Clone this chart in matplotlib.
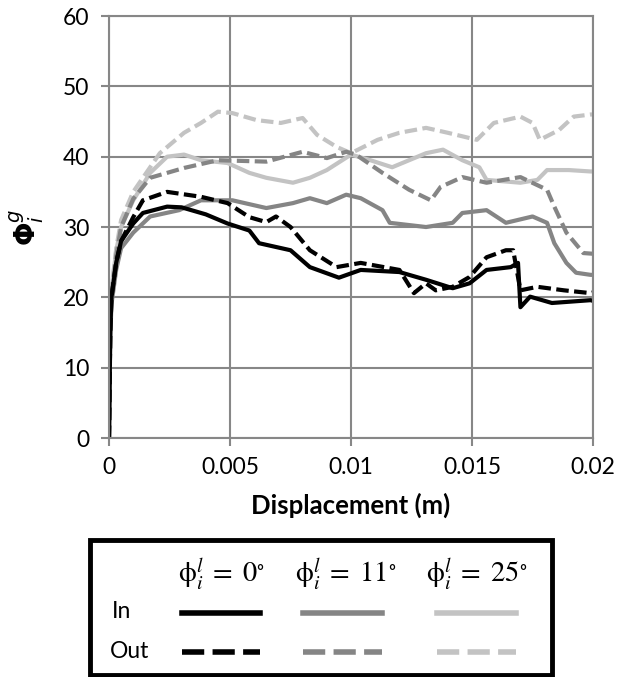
import matplotlib
matplotlib.use("Agg")
import matplotlib.pyplot as plt
from matplotlib.lines import Line2D
from matplotlib.patches import Rectangle

plt.rcParams['font.family'] = ['Lato', 'DejaVu Sans']

# phi_i^l = 0 deg, inlet (solid) and outlet (dashed)
x_in0 = [0, 0.00005, 0.0001, 0.0003, 0.0005, 0.001, 0.0014, 0.0024, 0.003, 0.004, 0.0049,
         0.0058, 0.0062, 0.0075, 0.0083, 0.0095, 0.0104, 0.012, 0.0131, 0.0142, 0.0149,
         0.0156, 0.0166, 0.0169, 0.0170, 0.0174, 0.0183, 0.0199, 0.02]
y_in0 = [0, 15, 20, 25, 28, 30.5, 32, 32.9, 32.8, 31.8, 30.5,
         29.5, 27.7, 26.7, 24.3, 22.8, 23.9, 23.6, 22.5, 21.3, 22,
         23.9, 24.3, 24.9, 18.6, 20.1, 19.2, 19.6, 19.5]
x_out0 = [0, 0.00005, 0.0001, 0.0003, 0.0005, 0.001, 0.0014, 0.0024, 0.0038, 0.0049, 0.0058,
          0.0065, 0.0069, 0.0075, 0.0083, 0.0094, 0.0104, 0.012, 0.0126, 0.0131, 0.0135,
          0.0142, 0.0149, 0.0156, 0.0164, 0.0167, 0.0170, 0.0177, 0.0188, 0.0199, 0.02]
y_out0 = [0, 15, 20, 25, 28, 31.4, 33.8, 35, 34.3, 33.4, 31.4,
          30.7, 31.5, 30, 26.7, 24.3, 24.9, 23.9, 20.6, 22, 21,
          21.5, 22.9, 25.7, 26.7, 26.7, 21, 21.5, 21, 20.6, 20.7]

# phi_i^l = 11 deg
x_in11 = [0, 0.00005, 0.0001, 0.0003, 0.0005, 0.001, 0.0017, 0.0029, 0.0038, 0.0051, 0.0065,
          0.0076, 0.0083, 0.009, 0.0098, 0.0104, 0.0113, 0.0116, 0.0131, 0.0142, 0.0146,
          0.0156, 0.0164, 0.0175, 0.0181, 0.0184, 0.0189, 0.0193, 0.0199, 0.02]
y_in11 = [0, 14, 19, 24, 27, 29.2, 31.5, 32.4, 33.8, 33.8, 32.7,
          33.4, 34.1, 33.4, 34.6, 34.1, 32.4, 30.6, 30, 30.6, 32,
          32.4, 30.6, 31.5, 30.6, 27.7, 24.9, 23.5, 23.2, 23.2]
x_out11 = [0, 0.00005, 0.0001, 0.0003, 0.0005, 0.001, 0.0017, 0.0031, 0.0045, 0.0065, 0.008,
           0.009, 0.0098, 0.0102, 0.0113, 0.0124, 0.0133, 0.0137, 0.0146, 0.0156, 0.017,
           0.0181, 0.0184, 0.0189, 0.0196, 0.02]
y_out11 = [0, 14, 20, 26, 30, 34, 37, 38.4, 39.5, 39.3, 40.7,
           39.8, 40.7, 40.3, 37.7, 35.3, 33.8, 35.7, 37.1, 36.3, 37.1,
           35.3, 32.9, 29.2, 26.3, 26.2]

# phi_i^l = 25 deg
x_in25 = [0, 0.00005, 0.0001, 0.0003, 0.0005, 0.001, 0.0017, 0.0024, 0.0031, 0.0038, 0.0049,
          0.0058, 0.0065, 0.0076, 0.0083, 0.009, 0.01, 0.0108, 0.0117, 0.0131, 0.0138,
          0.0146, 0.0153, 0.0156, 0.017, 0.0177, 0.0181, 0.019, 0.0199, 0.02]
y_in25 = [0, 15, 21, 26.7, 30, 33.8, 37.7, 40, 40.3, 39.5, 39.1,
          37.7, 37, 36.3, 37, 38.1, 40.3, 39.5, 38.5, 40.5, 41,
          39.5, 38.5, 36.7, 36.3, 36.7, 38.1, 38.1, 37.9, 37.9]
x_out25 = [0, 0.00005, 0.0001, 0.0003, 0.0005, 0.001, 0.0021, 0.0031, 0.0038, 0.0045, 0.0051,
           0.0061, 0.0071, 0.008, 0.0086, 0.0094, 0.01, 0.0111, 0.012, 0.0131, 0.014,
           0.0152, 0.0159, 0.017, 0.0175, 0.0178, 0.0186, 0.0192, 0.0199, 0.02]
y_out25 = [0, 15, 21, 27, 31, 35, 40.5, 43.4, 44.8, 46.4, 46.2,
           45.2, 44.8, 45.5, 43.1, 41.4, 40.5, 42.4, 43.4, 44.1, 43.4,
           42.4, 44.8, 45.7, 44.8, 42.4, 43.8, 45.7, 46, 46]

xticks = [0, 0.005, 0.01, 0.015, 0.02]
xtick_labels = ['0', '0.005', '0.01', '0.015', '0.02']
yticks = [0, 10, 20, 30, 40, 50, 60]

col_black = 'black'
col_grey = '#858585'
col_light = '#c3c3c3'
grid_col = '#878787'
dash = (3.0, 1.3)

fig = plt.figure(figsize=(6.18, 6.77), dpi=100)
ax = fig.add_axes([0.1764, 0.353, 0.7832, 0.6233])

# draw back to front like the original
ax.plot(x_out25, y_out25, color=col_light, lw=3, dashes=dash)
ax.plot(x_in25, y_in25, color=col_light, lw=3)
ax.plot(x_out11, y_out11, color=col_grey, lw=3, dashes=dash)
ax.plot(x_in11, y_in11, color=col_grey, lw=3)
ax.plot(x_out0, y_out0, color=col_black, lw=3, dashes=dash)
ax.plot(x_in0, y_in0, color=col_black, lw=3)

ax.set_xlim(0, 0.02)
ax.set_ylim(0, 60)
ax.set_xticks(xticks)
ax.set_xticklabels(xtick_labels)
ax.set_yticks(yticks)
ax.grid(True, color=grid_col, lw=1.5)
ax.set_axisbelow(True)
for s in ax.spines.values():
    s.set_color(grid_col)
    s.set_linewidth(1.5)
ax.tick_params(colors=grid_col, labelcolor='black', labelsize=16.5, length=6, width=1.5, pad=8)

ax.set_xlabel('Displacement (m)', fontsize=18.5, fontweight='bold', labelpad=10)
ax.set_ylabel(r'$\mathbf{\Phi}_i^g$', fontsize=20, labelpad=12)

# custom legend box below the axes
fig.add_artist(Rectangle((90 / 618, 1 - 675 / 677), 462 / 618, 135 / 677,
                         transform=fig.transFigure, fill=False, ec='black', lw=3.5))
headers = [r'$\mathrm{\phi}_i^l\;=\;0^{\circ}$', r'$\mathrm{\phi}_i^l\;=\;11^{\circ}$',
           r'$\mathrm{\phi}_i^l\;=\;25^{\circ}$']
col_x = [221, 346, 477]
line_x = [(182, 260), (303, 382), (437, 516)]
cols = [col_black, col_grey, col_light]
for h, cx, (x0, x1), c in zip(headers, col_x, line_x, cols):
    fig.text(cx / 618, 1 - 575 / 677, h, fontsize=20.5, ha='center', va='center',
             math_fontfamily='stix')
    fig.add_artist(Line2D([x0 / 618, x1 / 618], [1 - 613 / 677] * 2, color=c, lw=4,
                          transform=fig.transFigure))
    fig.add_artist(Line2D([x0 / 618, x1 / 618], [1 - 652 / 677] * 2, color=c, lw=4,
                          dashes=(4, 1.5), transform=fig.transFigure))
fig.text(112 / 618, 1 - 611 / 677, 'In', fontsize=16.5, va='center')
fig.text(110 / 618, 1 - 651 / 677, 'Out', fontsize=16.5, va='center')

fig.savefig('out.png', dpi=100)
